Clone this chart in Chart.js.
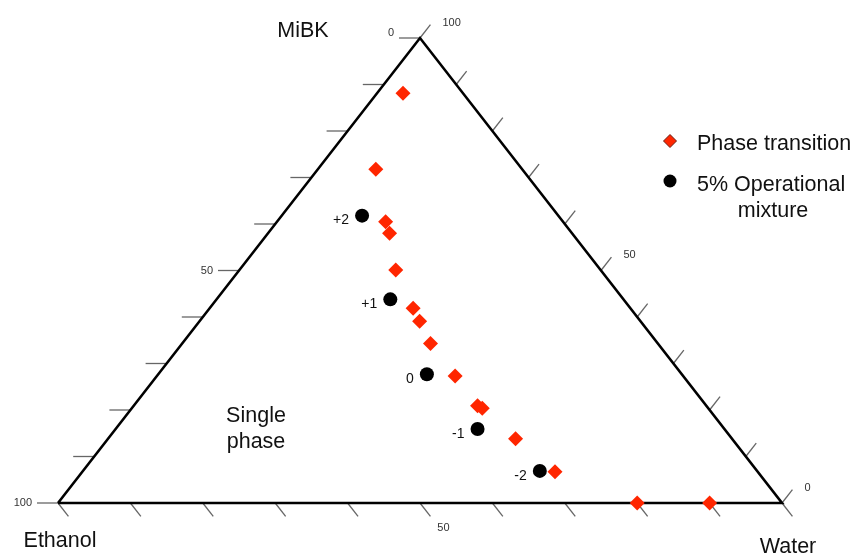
<!DOCTYPE html>
<html>
<head>
<meta charset="utf-8">
<script src="https://cdn.jsdelivr.net/npm/chart.js"></script>
<style>
  html, body { margin: 0; padding: 0; background: #fff; }
  #chart { display: block; }
</style>
</head>
<body>
<canvas id="chart" width="858" height="555"></canvas>
<script>
// Composition in % (MiBK top, Ethanol left, Water right)
const phaseMibk  = [88.1, 71.8, 60.5, 58.0, 50.1, 41.9, 39.1, 34.3, 27.3, 20.9, 20.4, 13.8, 6.7, 0, 0];
const phaseWater = [3.6, 8.0, 15.0, 16.8, 21.6, 28.1, 30.4, 34.3, 41.2, 47.5, 48.4, 56.3, 65.3, 80, 90];

const mixMibk   = [61.8, 43.8, 27.7, 15.9, 6.9];
const mixWater  = [11.1, 24.0, 37.1, 50.0, 63.1];
const mixLabels = ['+2', '+1', '0', '-1', '-2'];

const tickValues = [0, 10, 20, 30, 40, 50, 60, 70, 80, 90, 100];
const leftTickLabels   = { 0: '0', 50: '50', 100: '100' };   // along Ethanol -> MiBK edge
const rightTickLabels  = { 0: '0', 50: '50', 100: '100' };   // along Water -> MiBK edge
const bottomTickLabels = { 50: '50' };

const RED = 'rgb(255, 38, 0)';
const FONT = '"Liberation Sans", Arial, Helvetica, sans-serif';

// ternary -> plot coordinates (x along the base, y = MiBK share)
function toXY(mibk, water) {
    return { x: water + mibk / 2, y: mibk };
}

const triangle = [toXY(0, 0), toXY(0, 100), toXY(100, 0), toXY(0, 0)];

// ticks, tick numbers, axis names, legend
const ternaryDecor = {
    id: 'ternaryDecor',
    beforeDatasetsDraw(chart) {
        const ctx = chart.ctx;
        const xs = chart.scales.x, ys = chart.scales.y;
        const px = p => ({ x: xs.getPixelForValue(p.x), y: ys.getPixelForValue(p.y) });

        const eth = px(toXY(0, 0)), wat = px(toXY(0, 100)), top = px(toXY(100, 0));
        const unit = (a, b) => {
            const dx = b.x - a.x, dy = b.y - a.y, l = Math.hypot(dx, dy);
            return { x: dx / l, y: dy / l };
        };
        const downRight = unit(top, wat);   // bottom ticks
        const upRight = unit(eth, top);     // right ticks

        ctx.save();
        ctx.strokeStyle = '#666';
        ctx.lineWidth = 1.3;
        ctx.fillStyle = '#333';
        ctx.font = '11px ' + FONT;

        tickValues.forEach(v => {
            // left edge: horizontal ticks, 0 at apex, 100 at Ethanol
            const l = px(toXY(100 - v, 0));
            ctx.beginPath();
            ctx.moveTo(l.x, l.y);
            ctx.lineTo(l.x - 21, l.y);
            ctx.stroke();
            if (leftTickLabels[v] !== undefined) {
                ctx.textAlign = 'right';
                ctx.textBaseline = 'middle';
                ctx.fillText(leftTickLabels[v], l.x - 26, v === 0 ? l.y - 5 : l.y);
            }

            // bottom edge
            const b = px(toXY(0, v));
            const be = { x: b.x + downRight.x * 17, y: b.y + downRight.y * 17 };
            ctx.beginPath();
            ctx.moveTo(b.x, b.y);
            ctx.lineTo(be.x, be.y);
            ctx.stroke();
            if (bottomTickLabels[v] !== undefined) {
                ctx.textAlign = 'center';
                ctx.textBaseline = 'middle';
                ctx.fillText(bottomTickLabels[v], be.x + 13, be.y + 12);
            }

            // right edge: 100 at apex, 0 at Water
            const r = px(toXY(v, 100 - v));
            const re = { x: r.x + upRight.x * 17, y: r.y + upRight.y * 17 };
            ctx.beginPath();
            ctx.moveTo(r.x, r.y);
            ctx.lineTo(re.x, re.y);
            ctx.stroke();
            if (rightTickLabels[v] !== undefined) {
                ctx.textAlign = 'left';
                ctx.textBaseline = 'middle';
                ctx.fillText(rightTickLabels[v], re.x + 12, re.y - 2);
            }
        });
        ctx.restore();
    },
    afterDraw(chart) {
        const ctx = chart.ctx;
        const meta = chart.getDatasetMeta(1);
        ctx.save();

        // labels next to the operational mixtures
        ctx.fillStyle = '#111';
        ctx.font = '14px ' + FONT;
        ctx.textAlign = 'right';
        ctx.textBaseline = 'middle';
        meta.data.forEach((pt, i) => {
            ctx.fillText(mixLabels[i], pt.x - 13, pt.y + 5);
        });

        // corner names and region note
        ctx.fillStyle = '#111';
        ctx.font = '21.5px ' + FONT;
        ctx.textAlign = 'center';
        ctx.fillText('MiBK', 303, 31);
        ctx.fillText('Ethanol', 60, 541);
        ctx.fillText('Water', 788, 547);
        ctx.fillText('Single', 256, 416);
        ctx.fillText('phase', 256, 442);

        // legend
        ctx.beginPath();
        ctx.moveTo(670, 134.5);
        ctx.lineTo(676.5, 141);
        ctx.lineTo(670, 147.5);
        ctx.lineTo(663.5, 141);
        ctx.closePath();
        ctx.fillStyle = RED;
        ctx.fill();
        ctx.strokeStyle = '#6b1a10';
        ctx.lineWidth = 1;
        ctx.stroke();

        ctx.beginPath();
        ctx.arc(670, 181, 6.5, 0, Math.PI * 2);
        ctx.fillStyle = '#000';
        ctx.fill();

        ctx.fillStyle = '#111';
        ctx.textAlign = 'left';
        ctx.fillText('Phase transition', 697, 144);
        ctx.fillText('5% Operational', 697, 185);
        ctx.textAlign = 'center';
        ctx.fillText('mixture', 773, 211);

        ctx.restore();
    }
};

const ctx = document.getElementById('chart').getContext('2d');
new Chart(ctx, {
    type: 'scatter',
    data: {
        datasets: [{
            label: 'Phase transition',
            data: phaseMibk.map((m, i) => toXY(m, phaseWater[i])),
            pointStyle: 'rectRot',
            pointRadius: 7.5,
            backgroundColor: RED,
            borderWidth: 0,
            clip: false
        }, {
            label: '5% Operational mixture',
            data: mixMibk.map((m, i) => toXY(m, mixWater[i])),
            pointStyle: 'circle',
            pointRadius: 7,
            backgroundColor: '#000',
            borderWidth: 0,
            clip: false
        }, {
            label: 'frame',
            data: triangle,
            showLine: true,
            borderColor: '#000',
            borderWidth: 2.6,
            pointRadius: 0,
            fill: false,
            clip: false
        }]
    },
    options: {
        responsive: false,
        animation: false,
        devicePixelRatio: 1,
        layout: { padding: { left: 58, right: 76, top: 38, bottom: 52 } },
        plugins: {
            legend: { display: false },
            tooltip: { enabled: false }
        },
        scales: {
            x: { type: 'linear', min: 0, max: 100, display: false },
            y: { type: 'linear', min: 0, max: 100, display: false }
        }
    },
    plugins: [ternaryDecor]
});
</script>
</body>
</html>
